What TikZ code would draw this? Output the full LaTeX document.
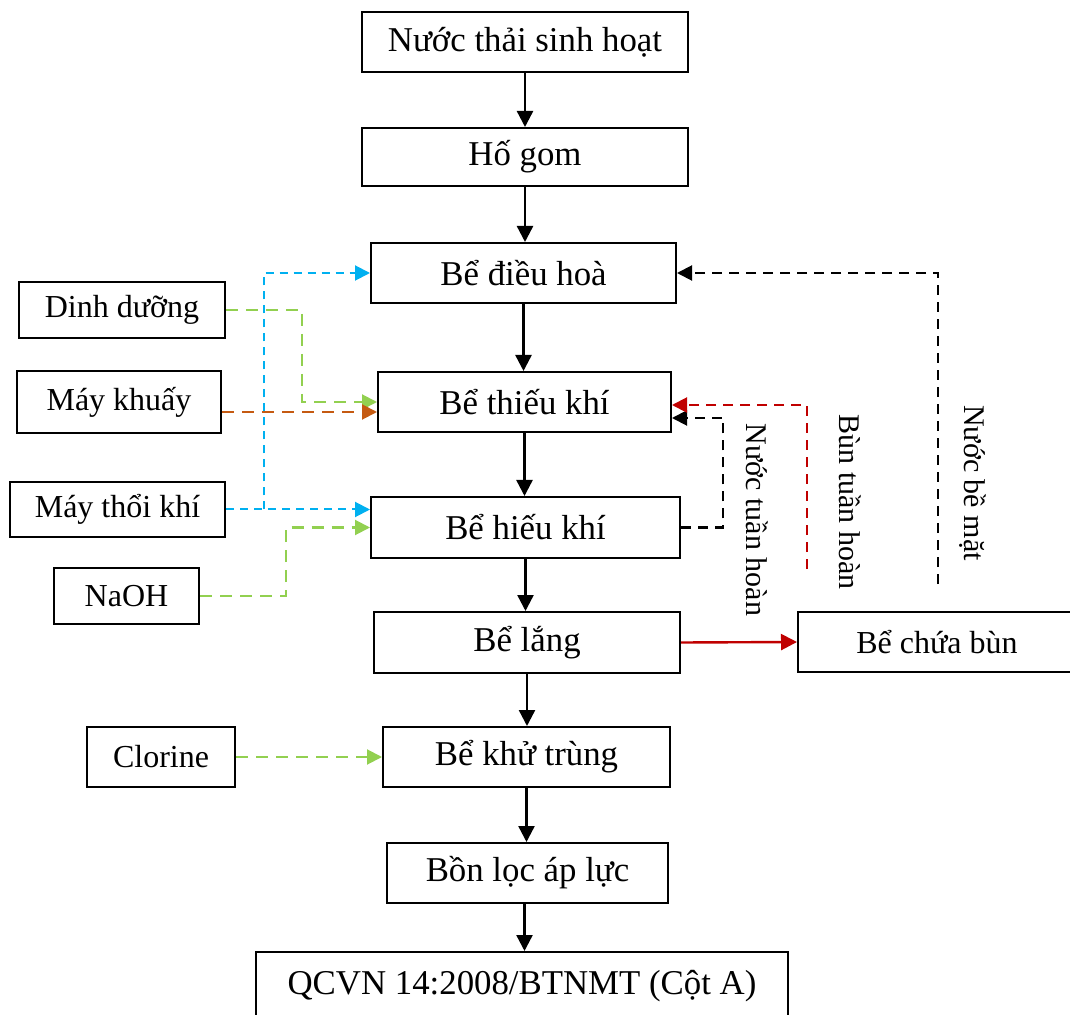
\documentclass[tikz,border=0pt]{standalone}
\usepackage{fontspec}
\setmainfont{Liberation Serif}
\usepackage{tikz}
\usetikzlibrary{arrows.meta}
\definecolor{feedgreen}{RGB}{146,208,80}
\definecolor{airblue}{RGB}{0,176,240}
\definecolor{mixorange}{RGB}{197,90,17}
\definecolor{sludgered}{RGB}{192,0,0}

\begin{document}
\begin{tikzpicture}[x=0.5pt, y=-0.5pt,
  box/.style={draw, line width=1pt, minimum height=30pt, inner sep=0pt,
              align=center, font=\fontsize{17.4}{20}\selectfont},
  sidebox/.style={box, font=\fontsize{16}{19}\selectfont},
  flow/.style={-{Triangle[length=8pt,width=8pt]}, line width=1.2pt},
  dose/.style={-{Triangle[length=7.5pt,width=7.5pt]}, line width=1pt,
               dash pattern=on 6pt off 4pt},
  back/.style={dose, dash pattern=on 5pt off 3.5pt},
  note/.style={rotate=-90, inner sep=0pt, font=\fontsize{15}{18}\selectfont}]

  \useasboundingbox (0,0) rectangle (1070,1015);

  % treatment line
  \node[box, minimum width=163pt] (nuoc) at (525,42) {Nước thải sinh hoạt};
  \node[box, minimum width=163pt, minimum height=29pt] (hogom) at (525,157) {Hố gom};
  \node[box, minimum width=152.5pt] (dieuhoa) at (523.5,273) {Bể điều hoà};
  \node[box, minimum width=146.5pt] (thieukhi) at (524.5,402) {Bể thiếu khí};
  \node[box, minimum width=154.5pt, minimum height=30.5pt] (hieukhi) at (525.5,527.5) {Bể hiếu khí};
  \node[box, minimum width=153pt, minimum height=30.5pt] (lang) at (527,642.5) {Bể lắng};
  \node[box, minimum width=143.5pt] (khutrung) at (526.5,757) {Bể khử trùng};
  \node[box, minimum width=140.5pt] (bonloc) at (527.5,873) {Bồn lọc áp lực};
  \node[box, minimum width=266pt, minimum height=34pt] (qcvn) at (522,986) {QCVN 14:2008/BTNMT (Cột A)};
  \node[sidebox, minimum width=139pt] (chuabun) at (937,642) {Bể chứa bùn};

  % inputs
  \node[sidebox, minimum width=103pt, minimum height=28pt] (dinhduong) at (122,310) {Dinh dưỡng};
  \node[sidebox, minimum width=102pt, minimum height=31pt] (maykhuay) at (119,402) {Máy khuấy};
  \node[sidebox, minimum width=107.5pt, minimum height=27.5pt] (maythoi) at (117.5,509.5) {Máy thổi khí};
  \node[sidebox, minimum width=72.5pt, minimum height=28pt] (naoh) at (126.5,596) {NaOH};
  \node[sidebox, minimum width=74pt] (clorine) at (161,757) {Clorine};

  \draw[flow] (nuoc.south) -- (nuoc.south |- hogom.north);
  \draw[flow] (hogom.south) -- (hogom.south |- dieuhoa.north);
  \draw[flow] (dieuhoa.south) -- (dieuhoa.south |- thieukhi.north);
  \draw[flow] (thieukhi.south) -- (thieukhi.south |- hieukhi.north);
  \draw[flow] (hieukhi.south) -- (hieukhi.south |- lang.north);
  \draw[flow] (lang.south) -- (lang.south |- khutrung.north);
  \draw[flow] (khutrung.south) -- (khutrung.south |- bonloc.north);
  \draw[flow] ([xshift=-1.5pt]bonloc.south) -- ([xshift=-1.5pt]bonloc.south |- qcvn.north);
  \draw[flow, sludgered] (lang.east) -- (chuabun.west);

  % dosing lines
  \draw[dose, feedgreen] (dinhduong.east) -- ++(76,0) |- (thieukhi.west);
  \draw[dose, mixorange] ([yshift=-5pt]maykhuay.east) -- ([yshift=-5pt]thieukhi.west);
  \draw[dose, airblue, dash pattern=on 4pt off 3pt]
    (maythoi.east) -- (maythoi.east -| hieukhi.west);
  \coordinate (airsplit) at (264,509.5);
  \draw[dose, airblue, dash pattern=on 4pt off 3pt] (airsplit) |- (dieuhoa.west);
  \draw[dose, feedgreen] (naoh.east) -- ++(86,0) |- (hieukhi.west);
  \draw[dose, feedgreen] (clorine.east) -- (khutrung.west);

  % return lines
  \draw[back] (hieukhi.east) -- ++(42,0) |- ([yshift=-8pt]thieukhi.east);
  \coordinate (sludgein) at (807,569);
  \draw[back, sludgered] (sludgein) |- ([yshift=-1.5pt]thieukhi.east);
  \coordinate (surfacein) at (938,584);
  \draw[back] (surfacein) |- (dieuhoa.east);

  \node[note] (nuoctuan) at (757,520) {Nước tuần hoàn};
  \node[note] (buntuan) at (850,502) {Bùn tuần hoàn};
  \node[note] (bemat) at (973,483) {Nước bề mặt};
\end{tikzpicture}
\end{document}
